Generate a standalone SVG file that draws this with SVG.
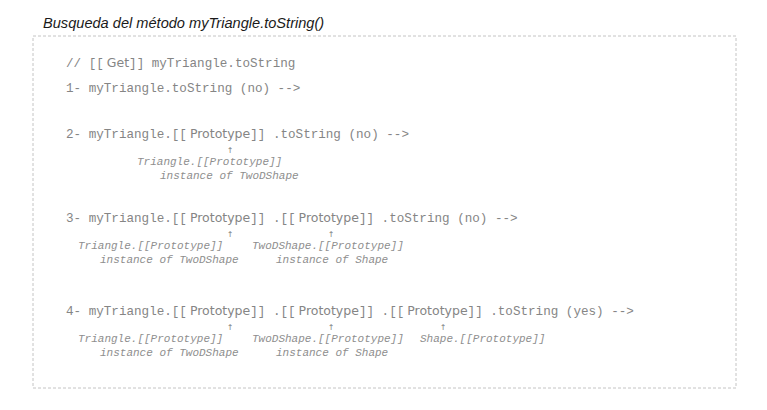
<svg xmlns="http://www.w3.org/2000/svg" width="767" height="410" viewBox="0 0 767 410">
<style>
.title{font-family:"Liberation Sans",Arial,sans-serif;font-style:italic;font-size:14.6px;fill:#1a1a1a}
.code{font-family:"Liberation Mono","Courier New",monospace;font-size:12.6px;fill:#858585;white-space:pre}
.sans{font-family:"DejaVu Sans","Liberation Sans",sans-serif;font-size:12.5px}
.lab{font-family:"Liberation Mono","Courier New",monospace;font-style:italic;font-size:11px;fill:#8e8e8e;white-space:pre}
.arr{font-family:"DejaVu Sans",sans-serif;font-size:8px;fill:#808080;text-anchor:middle}
</style>
<rect width="767" height="410" fill="#ffffff"/>
<text class="title" x="43" y="28">Busqueda del método myTriangle.toString()</text>
<rect id="frame" x="33" y="36" width="703" height="352" fill="none" stroke="#c4c4c4" stroke-width="1" stroke-dasharray="3 2"/>

<g id="line0"><text class="code" x="66" y="67">// [[<tspan class="sans" dx="3">Get</tspan>]] myTriangle.toString</text></g>
<g id="line1"><text class="code" x="66" y="92">1- myTriangle.toString (no) --&gt;</text></g>

<g id="line2">
<text class="code" x="66" y="138">2- myTriangle.[[<tspan class="sans" dx="3">Prototype</tspan>]] .toString (no) --&gt;</text>
<text class="lab" x="137" y="165">Triangle.[[Prototype]]</text>
<text class="lab" x="160" y="179">instance of TwoDShape</text>
</g>

<g id="line3">
<text class="code" x="66" y="222">3- myTriangle.[[<tspan class="sans" dx="3">Prototype</tspan>]] .[[<tspan class="sans" dx="3">Prototype</tspan>]] .toString (no) --&gt;</text>
<text class="lab" x="78" y="249">Triangle.[[Prototype]]</text>
<text class="lab" x="100" y="263">instance of TwoDShape</text>
<text class="lab" x="252" y="249">TwoDShape.[[Prototype]]</text>
<text class="lab" x="276" y="263">instance of Shape</text>
</g>

<g id="line4">
<text class="code" x="66" y="315">4- myTriangle.[[<tspan class="sans" dx="3">Prototype</tspan>]] .[[<tspan class="sans" dx="3">Prototype</tspan>]] .[[<tspan class="sans" dx="3">Prototype</tspan>]] .toString (yes) --&gt;</text>
<text class="lab" x="78" y="342">Triangle.[[Prototype]]</text>
<text class="lab" x="100" y="356">instance of TwoDShape</text>
<text class="lab" x="252" y="342">TwoDShape.[[Prototype]]</text>
<text class="lab" x="276" y="356">instance of Shape</text>
<text class="lab" x="420" y="342">Shape.[[Prototype]]</text>
</g>

<g id="connectors">
<text class="arr" x="230" y="153">↑</text>
<text class="arr" x="230" y="237">↑</text>
<text class="arr" x="331" y="237">↑</text>
<text class="arr" x="230" y="330">↑</text>
<text class="arr" x="331" y="330">↑</text>
<text class="arr" x="443" y="330">↑</text>
</g>
</svg>
